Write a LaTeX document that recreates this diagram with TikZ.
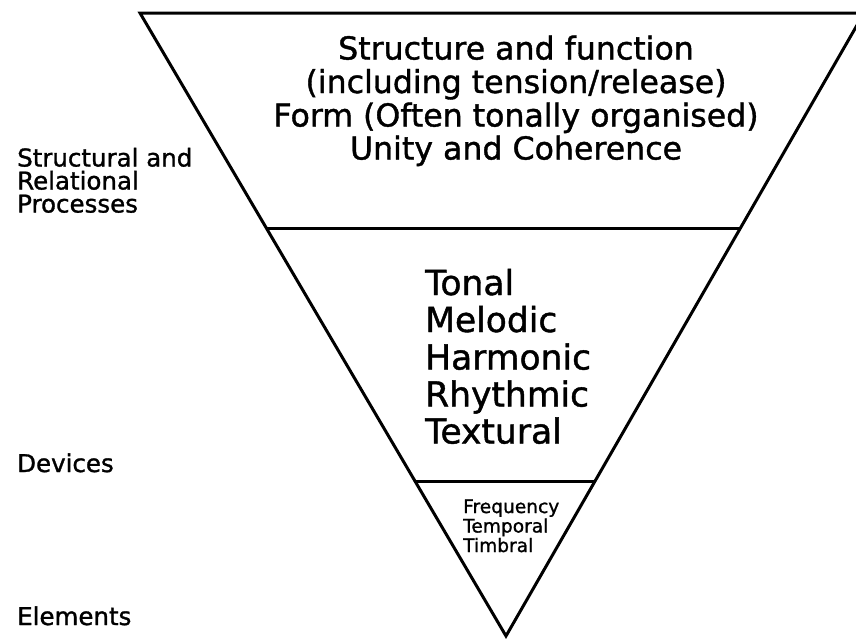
\documentclass[tikz,border=0pt]{standalone}
\usepackage{fontspec}
\setmainfont{DejaVu Sans}[FakeBold=1.2]
\usetikzlibrary{calc}
\begin{document}
\begin{tikzpicture}[x=1pt,y=-1pt,
  edge/.style={line width=3pt,line join=miter},
  divider/.style={line width=3pt},
  toptext/.style={anchor=base,inner sep=0pt,font=\fontsize{31.6}{33}\selectfont},
  midtext/.style={anchor=base west,inner sep=0pt,font=\fontsize{34.5}{37}\selectfont},
  smalltext/.style={anchor=base west,inner sep=0pt,font=\fontsize{18.6}{19}\selectfont},
  sidetext/.style={anchor=base west,inner sep=0pt,font=\fontsize{24.5}{24}\selectfont}]
\useasboundingbox (0,0) rectangle (856,638);
\fill[white] (0,0) rectangle (856,638);
\coordinate (tl) at (140,13);
\coordinate (tr) at (864,13);
\coordinate (ap) at (506,636);
\coordinate (l1) at ($(tl)!0.3467!(ap)$);
\coordinate (r1) at ($(tr)!0.3467!(ap)$);
\coordinate (l2) at ($(tl)!0.7512!(ap)$);
\coordinate (r2) at ($(tr)!0.7512!(ap)$);
\begin{scope}
\clip (0,0) rectangle (856,638);
\draw[edge] (tl) -- (tr) -- (ap) -- cycle;
\end{scope}
\draw[divider] (l1) -- (r1);
\draw[divider] (l2) -- (r2);
% top block
\node[toptext] (t1) at (516,59.5) {Structure and function};
\node[toptext] (t2) at (516,93) {(including tension/release)};
\node[toptext] (t3) at (516,126.5) {Form (Often tonally organised)};
\node[toptext] (t4) at (516,159.5) {Unity and Coherence};
% middle block
\node[midtext] (m1) at (425,295) {Tonal};
\node[midtext] (m2) at (425,332) {Melodic};
\node[midtext] (m3) at (425,369.5) {Harmonic};
\node[midtext] (m4) at (425,406.5) {Rhythmic};
\node[midtext] (m5) at (425,443.5) {Textural};
% bottom block
\node[smalltext] (b1) at (463,513) {Frequency};
\node[smalltext] (b2) at (463,532.5) {Temporal};
\node[smalltext] (b3) at (463,552) {Timbral};
% side labels
\node[sidetext] (s1) at (17,166.5) {Structural and};
\node[sidetext] (s2) at (17,189.5) {Relational};
\node[sidetext] (s3) at (17,212.5) {Processes};
\node[sidetext] (s4) at (17,472) {Devices};
\node[sidetext] (s5) at (17,625) {Elements};
\end{tikzpicture}
\end{document}
